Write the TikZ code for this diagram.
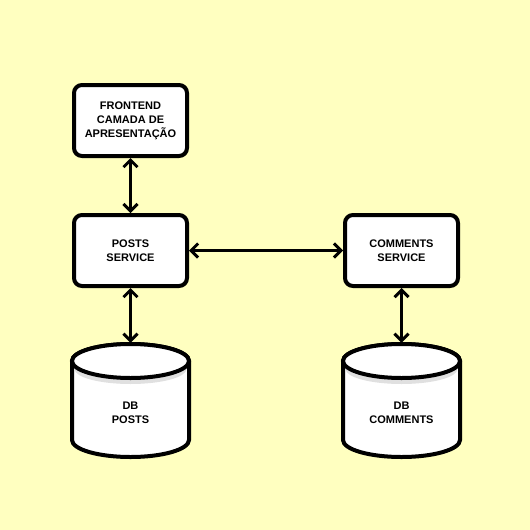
\documentclass[tikz,border=0pt]{standalone}
\usepackage{fontspec}
\setmainfont{Liberation Sans}
\usetikzlibrary{arrows.meta,positioning}
\definecolor{bgyellow}{RGB}{255,255,192}
\tikzset{
  box/.style={draw=black, line width=4pt, fill=white, rounded corners=8pt,
    minimum width=113pt, minimum height=71pt, inner sep=0pt, align=center,
    font=\bfseries\fontsize{11}{14}\selectfont},
  dbarea/.style={minimum width=117pt, minimum height=114pt, inner sep=0pt, align=center,
    font=\bfseries\fontsize{11}{14}\selectfont},
  link/.style={line width=3pt, {Straight Barb[length=7pt,width=14pt,line width=3pt]}-{Straight Barb[length=7pt,width=14pt,line width=3pt]}},
  cyl/.style={draw=black, line width=4pt, fill=white}
}
\begin{document}
\begin{tikzpicture}[x=1pt,y=-1pt]
\fill[bgyellow] (0,0) rectangle (530,530);
\useasboundingbox (0,0) rectangle (530,530);
\node[box] (fe) at (130.5,120.5) {FRONTEND\\CAMADA DE\\APRESENTAÇÃO};
\node[box] (ps) at (130.5,250.5) {POSTS\\SERVICE};
\node[box] (cs) at (401.5,250.5) {COMMENTS\\SERVICE};
% cylinders
\foreach \cx in {130.5, 401.5}{
  \draw[cyl] (\cx-58.5,361) -- (\cx-58.5,440) arc[start angle=180,end angle=0,x radius=58.5,y radius=17] -- (\cx+58.5,361) arc[start angle=0,end angle=-180,x radius=58.5,y radius=17];
  \fill[black!12] (\cx-56,364) -- (\cx-56,369) arc[start angle=180,end angle=0,x radius=56,y radius=15] -- (\cx+56,364) -- cycle;
  \draw[cyl] (\cx,361) ellipse[x radius=58.5,y radius=17];
}
\node[dbarea] (dbp) at (130.5,400) {};
\node[dbarea] (dbc) at (401.5,400) {};
\node[font=\bfseries\fontsize{11}{14}\selectfont, align=center] (dbpt) at (130.5,413) {DB\\POSTS};
\node[font=\bfseries\fontsize{11}{14}\selectfont, align=center] (dbct) at (401.5,413) {DB\\COMMENTS};
\draw[link] (fe.south) -- (ps.north);
\draw[link] (ps.east) -- (cs.west);
\draw[link] (ps.south) -- (dbp.north);
\draw[link] (cs.south) -- (dbc.north);
\end{tikzpicture}
\end{document}
